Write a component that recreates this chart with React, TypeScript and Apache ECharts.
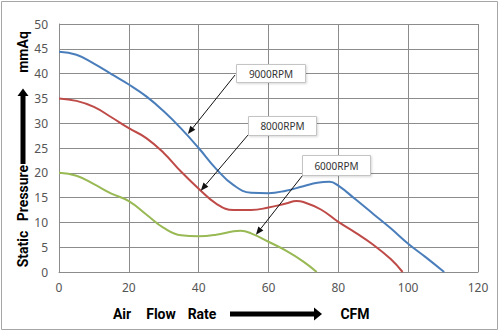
import React, { useEffect, useRef } from "react";
import * as echarts from "echarts";

// Fan performance curves: static pressure (mmAq) against air flow (CFM)
const rpm9000: [number, number][] = [
  [0, 44.4], [5, 43.8], [10, 42.0], [15, 39.9], [20, 37.8], [25, 35.4], [30, 32.4],
  [35, 28.9], [40, 25.0], [45, 20.8], [50, 17.5], [55, 16.0], [60, 15.9], [65, 16.4],
  [70, 17.3], [74, 18.0], [77.5, 18.2], [80, 17.4], [85, 14.6], [90, 11.7], [95, 8.8],
  [100, 5.7], [105, 3.0], [110.3, 0],
];
const rpm8000: [number, number][] = [
  [0, 35.0], [5, 34.5], [10, 33.3], [15, 31.2], [20, 29.0], [25, 27.0], [30, 24.0],
  [35, 20.2], [40, 16.8], [45, 13.8], [50, 12.5], [55, 12.5], [60, 13.0], [65, 13.8],
  [68, 14.3], [70, 14.1], [75, 12.6], [80, 10.1], [85, 7.9], [90, 5.5], [95, 2.6],
  [98.4, 0],
];
const rpm6000: [number, number][] = [
  [0, 20.0], [5, 19.4], [10, 17.7], [15, 15.8], [20, 14.3], [25, 11.6], [30, 8.9],
  [35, 7.4], [40, 7.2], [45, 7.5], [50, 8.2], [52, 8.3], [55, 7.8], [60, 6.1],
  [65, 4.3], [70, 2.1], [73.8, 0],
];
const seriesNames = ["9000RPM", "8000RPM", "6000RPM"];
// callout arrows: [from, to] in data units
const callouts: [number, number][][] = [
  [[50.4, 39.7], [36.9, 27.8]],
  [[54.1, 27.6], [40.6, 16.4]],
  [[69.9, 19.6], [56.4, 7.5]],
];
const xTicks = { min: 0, max: 120, interval: 20 };
const yTicks = { min: 0, max: 50, interval: 5 };

const TITLE_FONT = 'bold 14px Roboto, "Noto Sans", sans-serif';
const LABEL_FONT = '"Noto Sans", "Open Sans", sans-serif';

export default function App() {
  const ref = useRef<HTMLDivElement>(null);

  useEffect(() => {
    document.body.style.margin = "0";
    const chart = echarts.init(ref.current!, null, { renderer: "svg" });
    const colors = ["#4a7ebb", "#be4b48", "#98b954"];
    const data = [rpm9000, rpm8000, rpm6000];

    const boxes = [
      { x: 236, y: 64, w: 69, h: 18 },
      { x: 248, y: 116, w: 68, h: 19 },
      { x: 302, y: 155, w: 68, h: 20 },
    ];

    const title = (text: string, x: number, y: number, vertical = false) => ({
      type: "text",
      x,
      y,
      rotation: vertical ? Math.PI / 2 : 0,
      style: { text, font: TITLE_FONT, fill: "#000", align: "center", verticalAlign: "middle" },
    });

    const graphic: any[] = [
      {
        type: "rect",
        shape: { x: 1.5, y: 1.5, width: 496, height: 328 },
        style: { fill: "none", stroke: "#a6a6a6", lineWidth: 1 },
        z: 0,
        silent: true,
      },
      // vertical axis title with arrow
      title("Static", 23, 249, true),
      title("Pressure", 23, 193, true),
      { type: "rect", shape: { x: 20.5, y: 95, width: 5, height: 69 }, style: { fill: "#000" } },
      { type: "polygon", shape: { points: [[23, 88.5], [17.5, 96], [28.5, 96]] }, style: { fill: "#000" } },
      title("mmAq", 23, 52, true),
      // horizontal axis title with arrow
      title("Air", 122, 314),
      title("Flow", 161, 314),
      title("Rate", 202, 314),
      { type: "rect", shape: { x: 230, y: 311.5, width: 86, height: 5 }, style: { fill: "#000" } },
      { type: "polygon", shape: { points: [[322, 314], [314, 307.5], [314, 320.5]] }, style: { fill: "#000" } },
      title("CFM", 355, 314),
    ];
    boxes.forEach((b, i) => {
      graphic.push({
        type: "rect",
        shape: { x: b.x + 0.5, y: b.y + 0.5, width: b.w, height: b.h },
        style: { fill: "#fff", stroke: "#c4c4c4", lineWidth: 1, shadowBlur: 2, shadowColor: "rgba(0,0,0,0.15)", shadowOffsetX: 1, shadowOffsetY: 1 },
        z: 10,
      });
      graphic.push({
        type: "text",
        x: b.x + b.w / 2 + 0.5,
        y: b.y + b.h / 2 + 0.5,
        style: { text: seriesNames[i], font: `10px ${LABEL_FONT}`, fill: "#333", align: "center", verticalAlign: "middle" },
        z: 11,
      });
    });

    chart.setOption({
      animation: false,
      backgroundColor: "#fff",
      grid: { left: 59, top: 24, right: 22, bottom: 59, containLabel: false },
      xAxis: {
        type: "value",
        ...xTicks,
        axisLine: { show: true, lineStyle: { color: "#8c8c8c", width: 1 } },
        axisTick: { show: false },
        splitLine: { show: true, lineStyle: { color: "#8c8c8c", width: 1 } },
        axisLabel: { color: "#555", fontSize: 12, fontFamily: LABEL_FONT, margin: 9 },
      },
      yAxis: {
        type: "value",
        ...yTicks,
        axisLine: { show: true, lineStyle: { color: "#8c8c8c", width: 1 } },
        axisTick: { show: false },
        splitLine: { show: true, lineStyle: { color: "#8c8c8c", width: 1 } },
        axisLabel: { color: "#555", fontSize: 12, fontFamily: LABEL_FONT, margin: 11 },
      },
      series: data.map((d, i) => ({
        name: seriesNames[i],
        type: "line",
        data: d,
        smooth: 0.45,
        showSymbol: false,
        symbol: "none",
        lineStyle: { color: colors[i], width: 2 },
      })),
      graphic,
    });

    // callout arrows, placed through the axes' scales
    const arrows: any[] = [];
    callouts.forEach(([from, to]) => {
      const p0 = chart.convertToPixel({ gridIndex: 0 }, from) as number[];
      const p1 = chart.convertToPixel({ gridIndex: 0 }, to) as number[];
      const dx = p1[0] - p0[0];
      const dy = p1[1] - p0[1];
      const len = Math.hypot(dx, dy);
      const ux = dx / len;
      const uy = dy / len;
      const hl = 8;
      const hw = 3.2;
      const bx = p1[0] - ux * hl;
      const by = p1[1] - uy * hl;
      arrows.push({
        type: "line",
        shape: { x1: p0[0], y1: p0[1], x2: bx, y2: by },
        style: { stroke: "#111", lineWidth: 1 },
        z: 9,
      });
      arrows.push({
        type: "polygon",
        shape: { points: [[p1[0], p1[1]], [bx - uy * hw, by + ux * hw], [bx + uy * hw, by - ux * hw]] },
        style: { fill: "#111" },
        z: 9,
      });
    });
    chart.setOption({ graphic: [...graphic, ...arrows] });

    return () => chart.dispose();
  }, []);

  return <div ref={ref} style={{ width: 500, height: 331 }} />;
}
